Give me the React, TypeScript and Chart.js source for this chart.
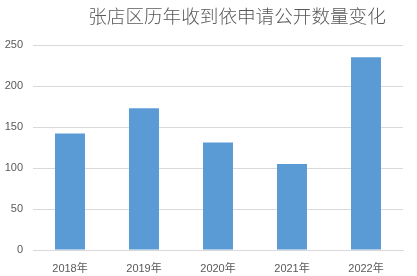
import React, { useEffect, useRef } from "react";
import { Chart, registerables } from "chart.js";

Chart.register(...registerables);

const titleText = "张店区历年收到依申请公开数量变化";
const categories = ["2018年", "2019年", "2020年", "2021年", "2022年"];
const values = [142, 173, 131, 105, 235];
const yTicks = [0, 50, 100, 150, 200, 250];

const titlePlugin = {
  id: "customTitle",
  afterDraw(chart: any) {
    const ctx = chart.ctx;
    ctx.save();
    ctx.font = "300 18.6px 'Noto Sans CJK SC', sans-serif";
    ctx.fillStyle = "#595959";
    ctx.textAlign = "center";
    ctx.textBaseline = "middle";
    ctx.fillText(titleText, 237, 16);
    ctx.restore();
  },
};

export default function App() {
  const ref = useRef<HTMLCanvasElement>(null);
  useEffect(() => {
    document.body.style.margin = "0";
    const chart = new Chart(ref.current!, {
      type: "bar",
      data: {
        labels: categories,
        datasets: [
          {
            data: values,
            backgroundColor: "#5B9BD5",
            barPercentage: 1,
            categoryPercentage: 0.405,
          },
        ],
      },
      options: {
        animation: false,
        responsive: false,
        layout: { padding: { top: 45, right: 14, left: 0, bottom: 0 } },
        plugins: { legend: { display: false }, title: { display: false }, tooltip: { enabled: false } },
        scales: {
          x: {
            grid: { display: false },
            border: { display: true, color: "#d9d9d9" },
            ticks: { color: "#595959", font: { size: 11, family: "'Liberation Sans', 'Noto Sans CJK SC', sans-serif" }, padding: 4 },
            afterFit(scale: any) { scale.height = 26; },
          },
          y: {
            min: 0,
            max: 250,
            afterBuildTicks(scale: any) { scale.ticks = yTicks.map((v) => ({ value: v })); },
            grid: { color: "#d9d9d9", drawTicks: false },
            border: { display: false },
            ticks: { color: "#595959", font: { size: 11, family: "'Liberation Sans', sans-serif" }, padding: 10 },
            afterFit(scale: any) { scale.width = 33; },
          },
        },
      },
      plugins: [titlePlugin],
    });
    return () => chart.destroy();
  }, []);
  return <canvas ref={ref} width={417} height={276} style={{ display: "block" }} />;
}
